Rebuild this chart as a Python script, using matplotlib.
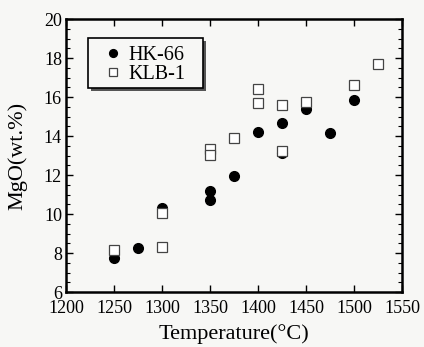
import matplotlib
matplotlib.use("Agg")
import matplotlib.pyplot as plt
from matplotlib.ticker import MultipleLocator
from matplotlib.patches import Rectangle

# HK-66 (filled circles)
hk_temp = [1250, 1275, 1300, 1350, 1350, 1375, 1400, 1425, 1425, 1450, 1475, 1500]
hk_mgo = [7.75, 8.25, 10.3, 11.2, 10.75, 11.95, 14.2, 14.65, 13.15, 15.4, 14.15, 15.85]

# KLB-1 (open squares)
klb_temp = [1250, 1300, 1300, 1350, 1350, 1375, 1400, 1400, 1425, 1425, 1450, 1500, 1525]
klb_mgo = [8.15, 10.05, 8.3, 13.35, 13.05, 13.9, 16.4, 15.7, 15.6, 13.25, 15.75, 16.6, 17.7]

x_ticks = [1200, 1250, 1300, 1350, 1400, 1450, 1500, 1550]
y_ticks = [6, 8, 10, 12, 14, 16, 18, 20]

BG = "#f7f7f5"
plt.rcParams["font.family"] = ["Liberation Serif", "DejaVu Serif"]

fig = plt.figure(figsize=(4.24, 3.47), dpi=100, facecolor=BG)
ax = fig.add_axes([0.156, 0.158, 0.792, 0.787])
ax.set_facecolor(BG)

ax.plot(hk_temp, hk_mgo, "o", color="black", markersize=7, label="HK-66", zorder=3)
ax.plot(klb_temp, klb_mgo, "s", markerfacecolor="white", markeredgecolor="#444444",
        markeredgewidth=0.9, markersize=7, label="KLB-1", zorder=4)

ax.set_xlim(1200, 1550)
ax.set_ylim(6, 20)
ax.set_xticks(x_ticks)
ax.set_yticks(y_ticks)
ax.yaxis.set_minor_locator(MultipleLocator(0.5))
ax.tick_params(which="both", direction="in", top=True, right=True, labelsize=13)
ax.tick_params(axis="x", pad=5.5)
ax.tick_params(axis="y", pad=3)
ax.tick_params(which="major", length=5, width=1)
ax.tick_params(which="minor", length=3, width=0.8)
for s in ax.spines.values():
    s.set_linewidth(1.8)

ax.set_xlabel("Temperature(°C)", fontsize=16, labelpad=5)
ax.set_ylabel("MgO(wt.%)", fontsize=16, labelpad=12)

# legend box with drop shadow, drawn by hand so its padding matches
x0, x1, y0, y1 = 0.0655, 0.408, 0.748, 0.931
ax.add_patch(Rectangle((x0 + 0.009, y0 - 0.011), x1 - x0, y1 - y0, transform=ax.transAxes,
                       facecolor="#555555", edgecolor="none", zorder=5))
ax.add_patch(Rectangle((x0, y0), x1 - x0, y1 - y0, transform=ax.transAxes,
                       facecolor=BG, edgecolor="black", linewidth=1.2, zorder=6))

leg = ax.legend(loc="upper left", bbox_to_anchor=(0.109, 0.903), borderaxespad=0,
                frameon=False, fontsize=14.5, handletextpad=0.3, borderpad=0,
                labelspacing=0.0, handlelength=1.0, markerscale=0.8)
leg.set_zorder(7)

fig.savefig("out.png", dpi=100, facecolor=fig.get_facecolor())
